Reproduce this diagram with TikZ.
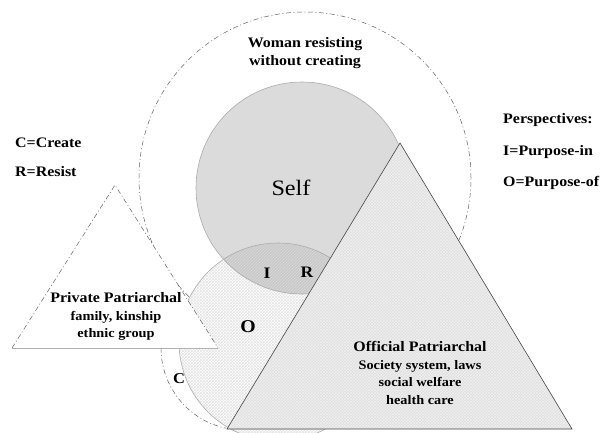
\documentclass[tikz,border=0pt]{standalone}
\usepackage{fontspec}
\setmainfont{Liberation Serif}
\usepackage{graphicx}
\usetikzlibrary{patterns}
\newcommand\sx[1]{\scalebox{1.1}[1]{#1}}
\newcommand\subf{\fontsize{13}{17.5}\selectfont}
\begin{document}
\begin{tikzpicture}[x=1pt,y=1pt,
  dashline/.style={draw=gray!75!black, line width=0.5pt, dash pattern=on 5pt off 2.5pt on 1pt off 2.5pt},
  txt/.style={inner sep=0pt, font=\bfseries\fontsize{14.5}{17.5}\selectfont, align=center},
  legend/.style={inner sep=0pt, anchor=west, font=\bfseries\fontsize{14.5}{17.5}\selectfont},
  letter/.style={inner sep=0pt, font=\bfseries\fontsize{#1}{#1}\selectfont},
  edge/.style={draw=gray!65, line width=0.6pt}]
\useasboundingbox (0,0) rectangle (601,432);

\coordinate (outerc) at (305,254);
\coordinate (selfc) at (302,244);
\coordinate (oc) at (278,90);
\coordinate (cc) at (243,84);

% outer dashed circle and C arc
\draw[dashline] (outerc) circle[radius=166pt];
\draw[dashline] (cc) ++(172:82pt) arc[start angle=172, end angle=258, radius=82pt];

% O circle
\fill[white] (oc) circle[radius=99pt];
\fill[pattern=crosshatch, pattern color=gray!22] (oc) circle[radius=99pt];

% Self circle
\fill[gray!28] (selfc) circle[radius=106pt];

% lens
\begin{scope}
  \clip (selfc) circle[radius=106pt];
  \fill[gray!42] (oc) circle[radius=99pt];
  \fill[pattern=north east lines, pattern color=gray!30] (oc) circle[radius=99pt];
\end{scope}
\draw[edge] (selfc) circle[radius=106pt];
\draw[edge] (oc) circle[radius=99pt];

% Official triangle
\fill[gray!26] (400,289) -- (572,3) -- (227,3) -- cycle;
\fill[pattern=crosshatch, pattern color=gray!12] (400,289) -- (572,3) -- (227,3) -- cycle;
\draw[draw=gray!55!black, line width=0.6pt] (400,289) -- (572,3) -- (227,3) -- cycle;

% Private triangle
\fill[white] (115,247) -- (218,84) -- (12,84) -- cycle;
\draw[dashline] (12,84) -- (115,247) -- (218,84);
\draw[gray!60, line width=0.6pt] (12,84) -- (218,84);

% texts
\node[txt] (woman) at (305,379) {\sx{Woman resisting}\\\sx{without creating}};
\node[inner sep=0pt, font=\fontsize{22}{26}\selectfont] (self) at (291,244) {\sx{Self}};

\node[legend] (legC) at (15,289) {\sx{C=Create}};
\node[legend] (legR) at (15,260) {\sx{R=Resist}};
\node[legend] (persp) at (503,312) {\sx{Perspectives:}};
\node[legend] (pin) at (503,280) {\sx{I=Purpose-in}};
\node[legend] (pof) at (503,249) {\sx{O=Purpose-of}};

\node[letter=16] (lI) at (267,159) {\sx{I}};
\node[letter=16] (lR) at (307,160) {\sx{R}};
\node[letter=18] (lO) at (248,105) {\sx{O}};
\node[letter=15] (lC) at (179,53) {\sx{C}};

\node[txt] (private) at (116,115.5) {\sx{Private Patriarchal}\\\subf\sx{family, kinship}\\\subf\sx{ethnic group}};
\node[txt] (official) at (420,59) {\sx{Official Patriarchal}\\\subf\sx{Society system, laws}\\\subf\sx{social welfare}\\\subf\sx{health care}};
\end{tikzpicture}
\end{document}
